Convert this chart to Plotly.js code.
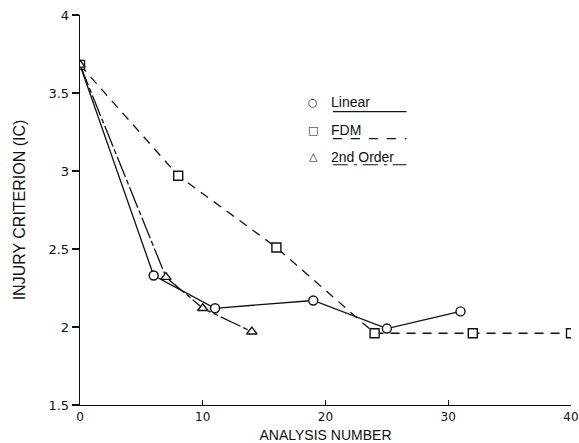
<!DOCTYPE html>
<html>
<head>
<meta charset="utf-8">
<script src="https://cdn.plot.ly/plotly-3.0.1.min.js"></script>
<style>
  html, body { margin: 0; padding: 0; background: #fff; }
  #chart { width: 579px; height: 443px; }
</style>
</head>
<body>
<div id="chart"></div>
<script>
// ---- Data ----
const linearX = [0, 6, 11, 19, 25, 31];
const linearY = [3.68, 2.33, 2.12, 2.17, 1.99, 2.10];

const fdmX = [0, 8, 16, 24, 32, 40];
const fdmY = [3.68, 2.97, 2.51, 1.96, 1.96, 1.96];

const secondX = [0, 7, 10, 14];
const secondY = [3.68, 2.32, 2.12, 1.97];

const seriesNames = ["Linear", "FDM", "2nd Order"];
const legendSymbols = ["○", "□", "△"];
const xTicks = [0, 10, 20, 30, 40];
const yTicks = [1.5, 2, 2.5, 3, 3.5, 4];
const yTickText = ["1.5", "2", "2.5", "3", "3.5", "4"];

const lineCol = "#111";
const fnt = "Liberation Sans, Arial, sans-serif";
const tickFnt = "DejaVu Sans, sans-serif";

function mk(sym) {
  return { symbol: sym, size: 9, color: "#fff", line: { width: 1.4, color: lineCol } };
}

const traces = [
  {
    x: linearX, y: linearY, name: seriesNames[0], type: "scatter", mode: "lines+markers",
    line: { color: lineCol, width: 1.3, dash: "solid" }, marker: mk("circle")
  },
  {
    x: fdmX, y: fdmY, name: seriesNames[1], type: "scatter", mode: "lines+markers",
    line: { color: lineCol, width: 1.3, dash: "9px,7px" }, marker: mk("square")
  },
  {
    x: secondX, y: secondY, name: seriesNames[2], type: "scatter", mode: "lines+markers",
    line: { color: lineCol, width: 1.3, dash: "22px,3px,5px,3px" }, marker: mk("triangle-up")
  }
];

// custom legend (symbol, underlined label with line-style sample)
const legRows = [0.776, 0.704, 0.637];
const underRows = [0.752, 0.683, 0.616];
const dashes = ["solid", "dash", "longdashdot"];
const annotations = [];
const shapes = [];
for (let i = 0; i < 3; i++) {
  annotations.push({
    xref: "paper", yref: "paper", x: 0.475, y: legRows[i], text: legendSymbols[i],
    showarrow: false, xanchor: "center", yanchor: "middle",
    font: { family: "DejaVu Sans, sans-serif", size: 11, color: lineCol }
  });
  annotations.push({
    xref: "paper", yref: "paper", x: 0.508, y: legRows[i], text: seriesNames[i],
    showarrow: false, xanchor: "left", yanchor: "middle",
    font: { family: fnt, size: 14, color: lineCol }
  });
  shapes.push({
    type: "line", xref: "paper", yref: "paper",
    x0: 0.515, x1: 0.665, y0: underRows[i], y1: underRows[i],
    line: { color: lineCol, width: 1.2, dash: dashes[i] }
  });
}

const layout = {
  width: 579, height: 443,
  margin: { l: 80, r: 8, t: 15, b: 38 },
  paper_bgcolor: "#fff", plot_bgcolor: "#fff",
  showlegend: false,
  font: { family: fnt, color: lineCol, size: 12 },
  xaxis: {
    range: [0, 40], tickvals: xTicks, ticktext: xTicks.map(String),
    showgrid: false, zeroline: false, showline: true, linecolor: lineCol, linewidth: 1.3,
    ticks: "inside", ticklen: 5, tickwidth: 1.2, tickcolor: lineCol,
    tickfont: { family: tickFnt, size: 12, color: lineCol },
    title: { text: "ANALYSIS NUMBER", font: { family: fnt, size: 14, color: lineCol }, standoff: 8 }
  },
  yaxis: {
    range: [1.5, 4], tickvals: yTicks, ticktext: yTickText,
    showgrid: false, zeroline: false, showline: true, linecolor: lineCol, linewidth: 1.3,
    ticks: "outside", ticklen: 7, tickwidth: 1.2, tickcolor: lineCol,
    tickfont: { family: tickFnt, size: 13, color: lineCol },
    title: { text: "INJURY CRITERION (IC)", font: { family: fnt, size: 16, color: lineCol }, standoff: 18 }
  },
  annotations: annotations,
  shapes: shapes
};

Plotly.newPlot("chart", traces, layout, { staticPlot: true, displayModeBar: false });
</script>
</body>
</html>
